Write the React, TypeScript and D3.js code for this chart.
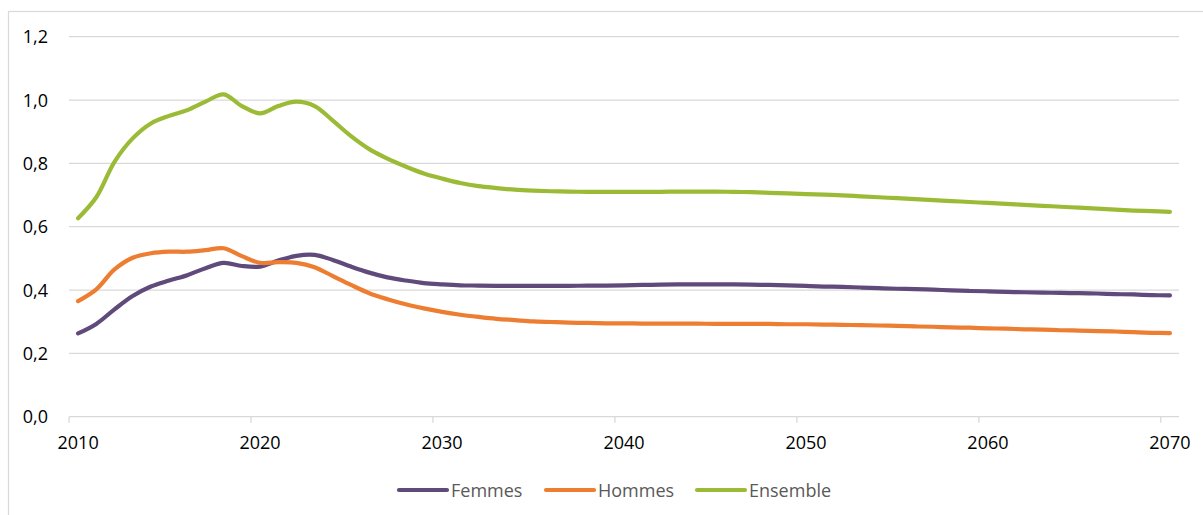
import React, { useEffect, useRef } from 'react';
import * as d3 from 'd3';

const years = d3.range(2010, 2071);

const femmes = [
  0.263, 0.293, 0.339, 0.381, 0.411, 0.43, 0.447, 0.469, 0.486, 0.476,
  0.474, 0.493, 0.508, 0.511, 0.495, 0.474, 0.455, 0.44, 0.43, 0.422,
  0.418, 0.415, 0.414, 0.413, 0.413, 0.413, 0.413, 0.413, 0.414, 0.414,
  0.415, 0.416, 0.417, 0.418, 0.418, 0.418, 0.418, 0.417, 0.416, 0.415,
  0.413, 0.411, 0.41, 0.408, 0.406, 0.404, 0.403, 0.401, 0.399, 0.397,
  0.396, 0.394, 0.393, 0.392, 0.391, 0.39, 0.389, 0.387, 0.386, 0.384,
  0.383,
];

const hommes = [
  0.365, 0.402, 0.465, 0.502, 0.516, 0.521, 0.521, 0.526, 0.532, 0.507,
  0.486, 0.488, 0.486, 0.472, 0.444, 0.416, 0.39, 0.371, 0.355, 0.342,
  0.331, 0.322, 0.315, 0.309, 0.305, 0.301, 0.299, 0.297, 0.296, 0.295,
  0.295, 0.294, 0.294, 0.294, 0.294, 0.293, 0.293, 0.293, 0.293, 0.292,
  0.292, 0.291, 0.29, 0.289, 0.288, 0.287, 0.285, 0.284, 0.282, 0.281,
  0.279, 0.278, 0.276, 0.275, 0.273, 0.272, 0.27, 0.269, 0.267, 0.265,
  0.264,
];

const ensemble = [
  0.627, 0.693, 0.805, 0.879, 0.926, 0.95, 0.968, 0.995, 1.018, 0.981,
  0.958, 0.981, 0.995, 0.981, 0.935, 0.886, 0.845, 0.815, 0.79, 0.768,
  0.752, 0.738, 0.728, 0.722, 0.717, 0.714, 0.712, 0.711, 0.71, 0.71,
  0.71, 0.71, 0.71, 0.711, 0.711, 0.711, 0.71, 0.709, 0.707, 0.705,
  0.703, 0.701, 0.699, 0.696, 0.693, 0.69, 0.687, 0.684, 0.681, 0.678,
  0.675, 0.672, 0.669, 0.666, 0.663, 0.66, 0.657, 0.654, 0.651, 0.649,
  0.647,
];

const yTicks = [0, 0.2, 0.4, 0.6, 0.8, 1.0, 1.2];
const xTickYears = [2010, 2020, 2030, 2040, 2050, 2060, 2070];

const series = [
  { name: 'Femmes', values: femmes, color: '#604a7b' },
  { name: 'Hommes', values: hommes, color: '#ed7d31' },
  { name: 'Ensemble', values: ensemble, color: '#9bbb36' },
];

const W = 1203;
const H = 515;
const FONT = '"Open Sans", "DejaVu Sans", sans-serif';

const App: React.FC = () => {
  const svgRef = useRef<SVGSVGElement>(null);

  useEffect(() => {
    if (!svgRef.current) return;
    const svg = d3.select(svgRef.current);
    svg.selectAll('*').remove();

    const left = 69;
    const right = 1179;
    const top = 36.7;
    const bottom = 416.7;

    // chart frame
    svg.append('rect')
      .attr('x', 8.5).attr('y', 11.5)
      .attr('width', 1200).attr('height', 520)
      .attr('fill', '#fff')
      .attr('stroke', '#d9d9d9')
      .attr('stroke-width', 1.2);

    const x = d3.scaleBand<number>()
      .domain(years)
      .range([left, right]);
    const cx = (yr: number) => (x(yr) as number) + x.bandwidth() / 2;

    const y = d3.scaleLinear().domain([0, 1.2]).range([bottom, top]);

    // gridlines
    svg.append('g')
      .selectAll('line')
      .data(yTicks)
      .enter()
      .append('line')
      .attr('x1', left).attr('x2', right)
      .attr('y1', d => y(d)).attr('y2', d => y(d))
      .attr('stroke', '#d9d9d9')
      .attr('stroke-width', 1.3);

    // y labels
    svg.append('g')
      .selectAll('text')
      .data(yTicks)
      .enter()
      .append('text')
      .attr('x', 48)
      .attr('y', d => y(d) + 6.5)
      .attr('text-anchor', 'end')
      .style('font-family', FONT)
      .style('font-size', '18px')
      .style('fill', '#000')
      .text(d => d3.format('.1f')(d).replace('.', ','));

    // x tick marks (between categories)
    svg.append('g')
      .selectAll('line')
      .data(xTickYears)
      .enter()
      .append('line')
      .attr('x1', d => x(d) as number).attr('x2', d => x(d) as number)
      .attr('y1', bottom).attr('y2', bottom + 6)
      .attr('stroke', '#d9d9d9')
      .attr('stroke-width', 1.3);

    // x labels
    svg.append('g')
      .selectAll('text')
      .data(xTickYears)
      .enter()
      .append('text')
      .attr('x', d => cx(d))
      .attr('y', 449)
      .attr('text-anchor', 'middle')
      .style('font-family', FONT)
      .style('font-size', '18px')
      .style('fill', '#000')
      .text(d => String(d));

    // lines
    const line = d3.line<number>()
      .x((_, i) => cx(years[i]))
      .y(d => y(d))
      .curve(d3.curveCatmullRom.alpha(0.5));

    series.forEach(s => {
      svg.append('path')
        .datum(s.values)
        .attr('d', line)
        .attr('fill', 'none')
        .attr('stroke', s.color)
        .attr('stroke-width', 4.2)
        .attr('stroke-linecap', 'round')
        .attr('stroke-linejoin', 'round');
    });

    // legend
    const legendX = [399, 546, 697];
    const legendY = 490;
    series.forEach((s, i) => {
      const g = svg.append('g').attr('transform', `translate(${legendX[i]},${legendY})`);
      g.append('line')
        .attr('x1', 0).attr('x2', 48)
        .attr('y1', 0).attr('y2', 0)
        .attr('stroke', s.color)
        .attr('stroke-width', 4.2)
        .attr('stroke-linecap', 'round');
      g.append('text')
        .attr('x', 52)
        .attr('y', 6.5)
        .style('font-family', FONT)
        .style('font-size', '18px')
        .style('fill', '#595959')
        .text(s.name);
    });
  }, []);

  return (
    <div style={{ position: 'absolute', left: 0, top: 0, width: W, height: H, background: '#fff' }}>
      <svg ref={svgRef} width={W} height={H} style={{ display: 'block' }} />
    </div>
  );
};

export default App;
